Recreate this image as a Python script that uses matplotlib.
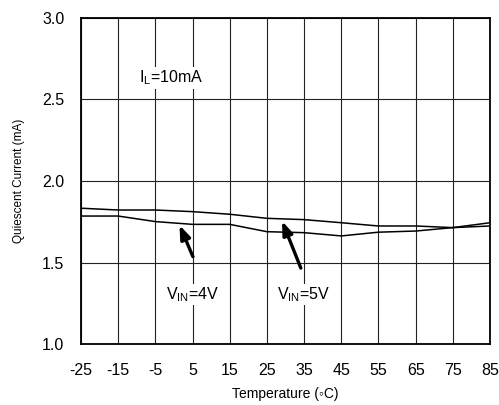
import matplotlib
matplotlib.use("Agg")
import matplotlib.pyplot as plt

plt.rcParams['font.family'] = ['Liberation Sans', 'DejaVu Sans']
plt.rcParams['axes.unicode_minus'] = False

# temperature points (degC)
temp = [-25, -15, -5, 5, 15, 25, 35, 45, 55, 65, 75, 85]
# quiescent current (mA)
iq_5v = [1.833, 1.822, 1.822, 1.812, 1.796, 1.771, 1.763, 1.744, 1.724, 1.724, 1.714, 1.724]
iq_4v = [1.785, 1.785, 1.751, 1.734, 1.734, 1.689, 1.683, 1.663, 1.686, 1.693, 1.714, 1.744]

xticks = [-25, -15, -5, 5, 15, 25, 35, 45, 55, 65, 75, 85]
yticks = [1.0, 1.5, 2.0, 2.5, 3.0]

fig = plt.figure(figsize=(4.99, 4.05), dpi=100)
ax = fig.add_axes([0.1623, 0.1506, 0.8197, 0.805])

ax.plot(temp, iq_5v, color='black', lw=1.1)
ax.plot(temp, iq_4v, color='black', lw=1.1)

ax.set_xlim(-25, 85)
ax.set_ylim(1.0, 3.0)
ax.set_xticks(xticks)
ax.set_xticklabels([str(t) for t in xticks])
ax.set_yticks(yticks)
ax.set_yticklabels(['%.1f' % v for v in yticks])
ax.tick_params(length=0, labelsize=11.5)
ax.tick_params(axis='x', pad=14)
ax.tick_params(axis='y', pad=12)
ax.grid(True, color='#222222', lw=0.8)
for s in ax.spines.values():
    s.set_linewidth(1.3)

ax.set_xlabel('Temperature (\u25e6C)', fontsize=10, labelpad=6)
ax.set_ylabel('Quiescent Current (mA)', fontsize=8.5, labelpad=12)

wb = dict(facecolor='white', edgecolor='none', pad=1)
ax.text(-0.8, 2.632, 'I$_\\mathregular{L}$=10mA', fontsize=11.5, ha='center', va='center', bbox=wb)
ax.text(5, 1.305, 'V$_\\mathregular{IN}$=4V', fontsize=11.5, ha='center', va='center', bbox=wb)
ax.text(35, 1.305, 'V$_\\mathregular{IN}$=5V', fontsize=11.5, ha='center', va='center', bbox=wb)

arrow = dict(arrowstyle='-|>,head_length=0.8,head_width=0.3', color='black', lw=2.4)
ax.annotate('', xy=(1.2, 1.745), xytext=(5.4, 1.52), arrowprops=arrow)
ax.annotate('', xy=(28.8, 1.77), xytext=(34.4, 1.45), arrowprops=arrow)

fig.savefig('out.png', dpi=100)
